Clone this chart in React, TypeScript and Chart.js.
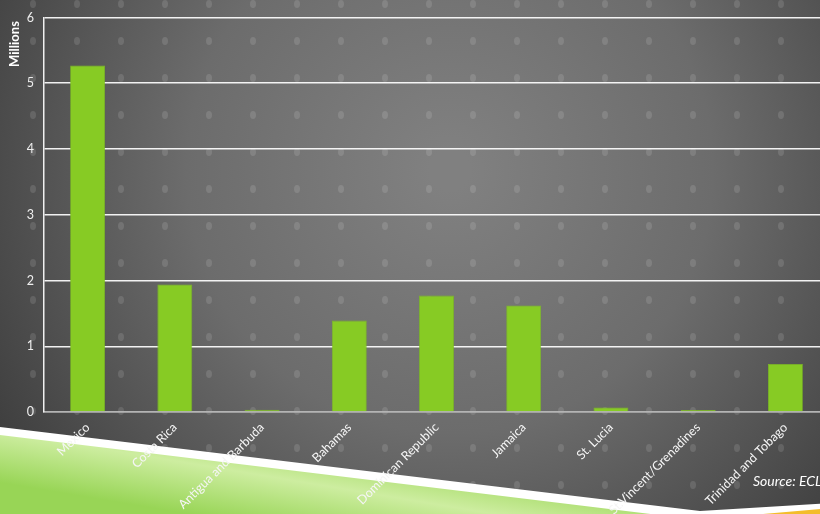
import React, { useEffect, useRef } from "react";
import { Chart, registerables } from "chart.js";

Chart.register(...registerables);

const categories = [
  "Mexico",
  "Costa Rica",
  "Antigua and Barbuda",
  "Bahamas",
  "Dominican Republic",
  "Jamaica",
  "St. Lucia",
  "St.Vincent/Grenadines",
  "Trinidad and Tobago",
];
const visitors = [5.27, 1.94, 0.035, 1.39, 1.77, 1.62, 0.07, 0.03, 0.73];
const yTicks = [0, 1, 2, 3, 4, 5, 6];
const yTitle = "Millions";
const sourceText = "Source: ECLAC";

const FONT = "Lato, 'Open Sans', sans-serif";

const decorPlugin = {
  id: "decor",
  beforeDraw(chart: any) {
    const { ctx, width, height } = chart;
    ctx.save();
    const g = ctx.createRadialGradient(450, 170, 20, 450, 170, 560);
    g.addColorStop(0, "#808080");
    g.addColorStop(0.45, "#6c6c6c");
    g.addColorStop(1, "#383838");
    ctx.fillStyle = g;
    ctx.fillRect(0, 0, width, height);
    ctx.fillStyle = "rgba(255,255,255,0.12)";
    for (let x = 33 - 44; x < width + 44; x += 44) {
      for (let y = 4; y < height + 37; y += 37) {
        ctx.beginPath();
        ctx.ellipse(x, y, 3, 4, 0, 0, Math.PI * 2);
        ctx.fill();
      }
    }
    ctx.fillStyle = "#ffffff";
    ctx.beginPath();
    ctx.moveTo(0, 427);
    ctx.lineTo(700, 511);
    ctx.lineTo(832, 503);
    ctx.lineTo(832, 514);
    ctx.lineTo(0, 514);
    ctx.closePath();
    ctx.fill();
    const gg = ctx.createLinearGradient(300, 440, 285, 530);
    gg.addColorStop(0, "#9fd85e");
    gg.addColorStop(0.45, "#cdeda0");
    gg.addColorStop(1, "#98d556");
    ctx.fillStyle = gg;
    ctx.beginPath();
    ctx.moveTo(0, 435);
    ctx.lineTo(700, 520);
    ctx.lineTo(0, 520);
    ctx.closePath();
    ctx.fill();
    ctx.fillStyle = "#f3bd2c";
    ctx.beginPath();
    ctx.moveTo(740, 516);
    ctx.lineTo(832, 508);
    ctx.lineTo(832, 516);
    ctx.closePath();
    ctx.fill();
    ctx.restore();
  },
  afterDraw(chart: any) {
    const { ctx } = chart;
    ctx.save();
    ctx.fillStyle = "#ffffff";
    ctx.font = "bold 13px " + FONT;
    ctx.textAlign = "center";
    ctx.textBaseline = "middle";
    ctx.translate(15, 44);
    ctx.rotate(-Math.PI / 2);
    ctx.fillText(yTitle, 0, 0);
    ctx.restore();
    ctx.save();
    ctx.fillStyle = "#ffffff";
    ctx.font = "italic 14px " + FONT;
    ctx.textAlign = "left";
    ctx.textBaseline = "alphabetic";
    ctx.fillText(sourceText, 753, 486);
    ctx.restore();
  },
};

export default function App() {
  const ref = useRef<HTMLCanvasElement | null>(null);
  useEffect(() => {
    if (!ref.current) return;
    const chart = new Chart(ref.current, {
      type: "bar",
      data: {
        labels: categories,
        datasets: [
          {
            data: visitors,
            backgroundColor: "#87cb24",
            borderColor: "#7dbd20",
            borderWidth: 0.8,
            categoryPercentage: 0.8,
            barPercentage: 0.5,
          },
        ],
      },
      options: {
        responsive: false,
        animation: false,
        devicePixelRatio: 1,
        layout: { padding: { top: 16, right: 3, bottom: 0, left: 0 } },
        plugins: {
          legend: { display: false },
          tooltip: { enabled: false },
        },
        scales: {
          x: {
            grid: { display: false, drawTicks: false },
            border: { display: true, color: "#b4b4b4", width: 1.5, z: -1 },
            ticks: {
              color: "#f5f5f5",
              font: { family: FONT, size: 12.5 },
              maxRotation: 45,
              minRotation: 45,
              autoSkip: false,
              padding: 8,
            },
            afterFit(scale: any) {
              scale.height = 102;
            },
          },
          y: {
            min: 0,
            max: 6,
            afterBuildTicks(scale: any) {
              scale.ticks = yTicks.map((v) => ({ value: v }));
            },
            grid: {
              drawTicks: false,
              color: (c: any) =>
                c.tick && c.tick.value === 0 ? "#b4b4b4" : "rgba(255,255,255,0.92)",
              lineWidth: 1.5,
            },
            border: { display: true, color: "#f0f0f0", width: 1.5 },
            ticks: {
              color: "#eeeeee",
              font: { family: FONT, size: 12.5 },
              padding: 10,
            },
            afterFit(scale: any) {
              scale.width = 44;
            },
          },
        },
      },
      plugins: [decorPlugin],
    });
    return () => chart.destroy();
  }, []);
  return (
    <div
      style={{
        position: "absolute",
        left: 0,
        top: 0,
        width: 820,
        height: 514,
        overflow: "hidden",
      }}
    >
      <canvas ref={ref} width={832} height={514} style={{ display: "block" }} />
    </div>
  );
}
